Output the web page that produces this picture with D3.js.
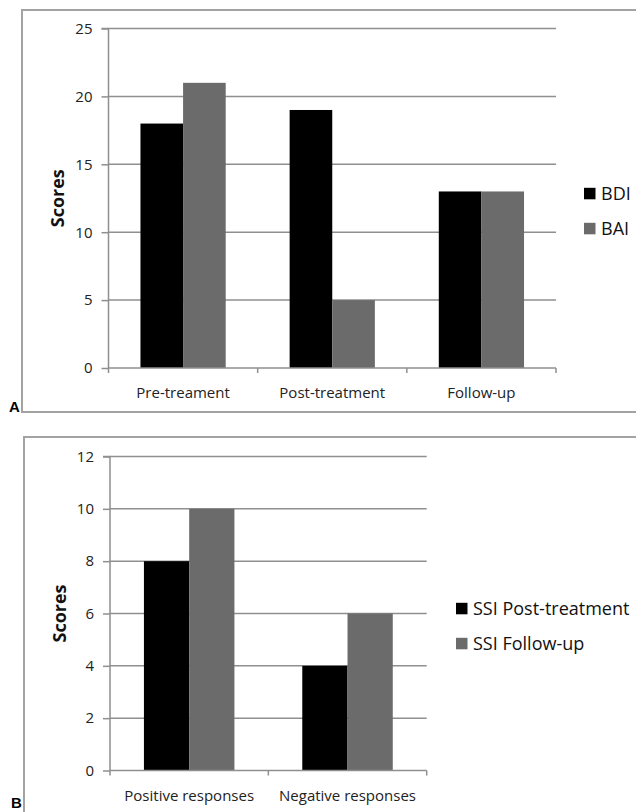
<!DOCTYPE html>
<html><head><meta charset="utf-8">
<script src="https://cdn.jsdelivr.net/npm/d3@7"></script>
<style>body{margin:0;background:#fff}svg{display:block}</style>
</head><body>
<svg id="c" width="636" height="812"></svg>
<script>
// Panel A data
const catsA = ["Pre-treament", "Post-treatment", "Follow-up"];
const seriesA = ["BDI", "BAI"];
const bdi = [18, 19, 13];
const bai = [21, 5, 13];
const ticksA = [0, 5, 10, 15, 20, 25];
// Panel B data
const catsB = ["Positive responses", "Negative responses"];
const seriesB = ["SSI Post-treatment", "SSI Follow-up"];
const ssiPost = [8, 4];
const ssiFollow = [10, 6];
const ticksB = [0, 2, 4, 6, 8, 10, 12];

const colors = ["#000000", "#6b6b6b"];
const grid = "#8f8f8f";
const textCol = "#222";
const font = "'Open Sans', sans-serif";
const svg = d3.select("#c");

function panel(o) {
  const g = svg.append("g");
  // frame
  g.append("rect").attr("x", o.frame[0]).attr("y", o.frame[1])
    .attr("width", o.frame[2]).attr("height", o.frame[3])
    .attr("fill", "none").attr("stroke", "#a3a3a3").attr("stroke-width", 2);
  const x0 = d3.scaleBand().domain(o.cats).range([o.left, o.right]).padding(0);
  const x1 = d3.scaleBand().domain(o.series).range([0, x0.bandwidth()]).paddingInner(0).paddingOuter(0.75);
  const y = d3.scaleLinear().domain([0, o.max]).range([o.bottom, o.top]);
  // gridlines
  g.append("g").selectAll("line").data(o.ticks.filter(t => t > 0)).join("line")
    .attr("x1", o.left).attr("x2", o.right)
    .attr("y1", d => y(d)).attr("y2", d => y(d))
    .attr("stroke", grid).attr("stroke-width", 1.5);
  // bars
  const data = o.cats.map((c, i) => o.series.map((s, j) => ({c, s, v: o.values[j][i], j}))).flat();
  g.append("g").selectAll("rect").data(data).join("rect")
    .attr("x", d => x0(d.c) + x1(d.s)).attr("width", x1.bandwidth())
    .attr("y", d => y(d.v)).attr("height", d => y(0) - y(d.v))
    .attr("fill", d => colors[d.j]);
  // y axis
  const ya = g.append("g").attr("transform", `translate(${o.left},0)`)
    .call(d3.axisLeft(y).tickValues(o.ticks).tickSize(7).tickPadding(9));
  ya.select(".domain").attr("stroke", grid).attr("stroke-width", 1.5).attr("d", `M-7,${o.top}H0V${o.bottom}`);
  ya.selectAll(".tick line").attr("stroke", grid).attr("stroke-width", 1.5);
  ya.selectAll(".tick text").attr("fill", textCol).style("font-family", font).style("font-size", "15px");
  // x axis
  const xa = g.append("g").attr("transform", `translate(0,${o.bottom})`);
  xa.append("line").attr("x1", o.left).attr("x2", o.right).attr("stroke", grid).attr("stroke-width", 1.5);
  const bounds = o.cats.map(c => x0(c)).concat([o.right]);
  xa.selectAll("line.t").data(bounds).join("line").attr("class", "t")
    .attr("x1", d => d).attr("x2", d => d).attr("y1", 0).attr("y2", 5)
    .attr("stroke", grid).attr("stroke-width", 1.5);
  xa.selectAll("text").data(o.cats).join("text")
    .attr("x", d => x0(d) + x0.bandwidth() / 2).attr("y", o.labelDy)
    .attr("text-anchor", "middle").attr("fill", textCol)
    .style("font-family", font).style("font-size", "15px").text(d => d);
  // y title
  g.append("text").attr("transform", `translate(${o.titleX},${(o.top + o.bottom) / 2}) rotate(-90)`)
    .attr("text-anchor", "middle").attr("fill", "#111")
    .style("font-family", font).style("font-size", "18px").style("font-weight", "bold").text("Scores");
  // legend
  const lg = g.append("g");
  o.series.forEach((s, j) => {
    const cy = o.legend[1] + j * 35;
    lg.append("rect").attr("x", o.legend[0]).attr("y", cy - 5.5).attr("width", 11.5).attr("height", 11.5).attr("fill", colors[j]);
    lg.append("text").attr("x", o.legend[0] + 17).attr("y", cy + 6.5).attr("fill", "#111")
      .style("font-family", font).style("font-size", "18px").text(s);
  });
  // panel letter
  g.append("text").attr("x", o.letter[0]).attr("y", o.letter[1]).attr("fill", "#000")
    .style("font-family", "'Liberation Sans', Arial, sans-serif").style("font-size", "15px").style("font-weight", "bold").text(o.letterText);
}

panel({cats: catsA, series: seriesA, values: [bdi, bai], ticks: ticksA, max: 25,
  left: 108.5, right: 556, top: 28.5, bottom: 368, labelDy: 30, titleX: 64,
  frame: [22, 10, 640, 402], legend: [584, 193.3], letter: [9, 412], letterText: "A"});
panel({cats: catsB, series: seriesB, values: [ssiPost, ssiFollow], ticks: ticksB, max: 12,
  left: 110, right: 426.7, top: 456.5, bottom: 770.5, labelDy: 30, titleX: 66,
  frame: [24, 437, 640, 400], legend: [456, 608.3], letter: [11, 808], letterText: "B"});
</script>
</body></html>
